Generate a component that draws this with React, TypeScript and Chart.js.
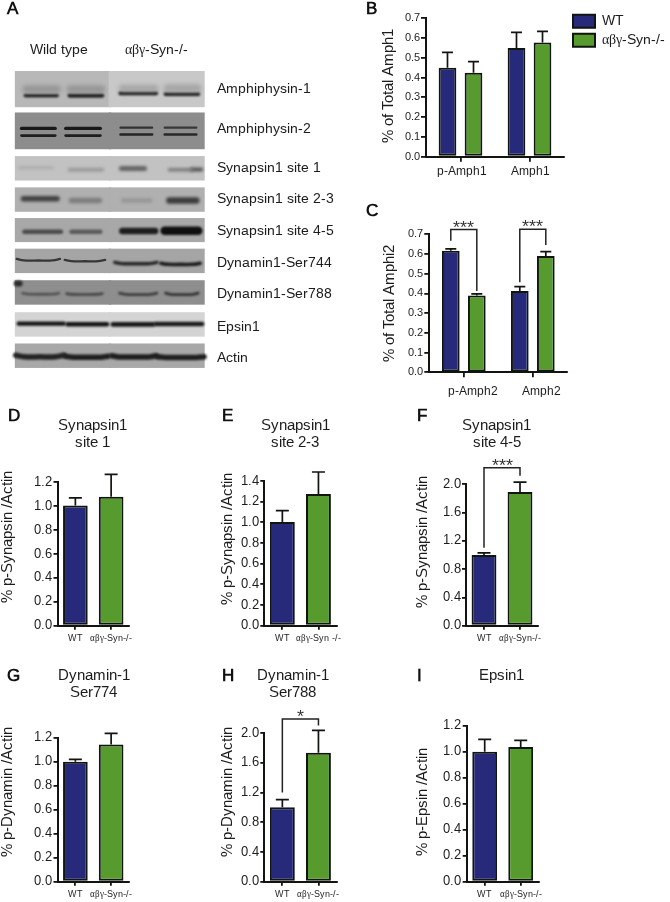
import React, { useEffect, useRef } from "react";
import { Chart, registerables } from "chart.js";

Chart.register(...registerables);

// ---------- data ----------
const navy = "#27297b";
const green = "#579a2e";
const ink = "#10160f";
const textColor = "#1c1c1c";

const bCategories = ["p-Amph1", "Amph1"];
const bWT = [0.45, 0.55];
const bWTErr = [0.078, 0.079];
const bKO = [0.425, 0.577];
const bKOErr = [0.056, 0.057];

const cCategories = ["p-Amph2", "Amph2"];
const cWT = [0.616, 0.413];
const cWTErr = [0.01, 0.022];
const cKO = [0.389, 0.59];
const cKOErr = [0.009, 0.022];

const dCategories = ["WT", "αβγ-Syn-/-"];
const dValues = [1.005, 1.08];
const dErrors = [0.064, 0.187];

const eCategories = ["WT", "αβγ-Syn -/-"];
const eValues = [1.003, 1.274];
const eErrors = [0.11, 0.213];

const fCategories = ["WT", "αβγ-Syn-/-"];
const fValues = [1.0, 1.89];
const fErrors = [0.03, 0.14];

const gCategories = ["WT", "αβγ-Syn-/-"];
const gValues = [1.0, 1.144];
const gErrors = [0.02, 0.092];

const hCategories = ["WT", "αβγ-Syn-/-"];
const hValues = [1.0, 1.735];
const hErrors = [0.103, 0.301];

const iCategories = ["WT", "αβγ-Syn-/-"];
const iValues = [1.0, 1.036];
const iErrors = [0.095, 0.051];

const legendLabels = ["WT", "αβγ-Syn-/-"];

const panelLetters: [string, number, number][] = [
  ["A", 6.5, 14.7], ["B", 365.5, 14.7], ["C", 365.5, 217.3],
  ["D", 7.5, 421.7], ["E", 222, 421.7], ["F", 416.7, 422.3],
  ["G", 6.7, 682.3], ["H", 222, 682], ["I", 417, 682],
];

const blotHeaders: [string, number][] = [["Wild type", 59], ["αβγ-Syn-/-", 156]];

const blotLabels = [
  "Amphiphysin-1", "Amphiphysin-2", "Synapsin1 site 1", "Synapsin1 site 2-3", "Synapsin1 site 4-5",
  "Dynamin1-Ser744", "Dynamin1-Ser788", "Epsin1", "Actin",
];
const blotLabelY = [88.3, 128.3, 167.3, 198.3, 230, 261.7, 293, 326, 357.3];
const blotTop = [68.3, 110.7, 155.3, 187.3, 218.7, 250, 282.3, 315, 347];
const blotBottom = [105.3, 148.3, 180.3, 212.3, 243.3, 275, 307.3, 340, 372];
const blotGrayLeft = [184, 141, 194, 176, 168, 165, 142, 212, 168];
const blotGrayRight = [200, 141, 194, 176, 168, 165, 142, 212, 168];
const blotLaneLeft = [11, 108.7];
const blotLaneRight = [111.3, 208.7];

// x0, x1, y, thickness, gray level, blur, sag
const blotBands: number[][] = [
  // Amphiphysin-1 smears and bands
  [23, 55, 87, 8, 150, 2, 0], [69, 101, 87, 8, 150, 2, 0], [123, 157, 86, 7, 165, 2, 0], [170, 201, 86, 8, 165, 2, 0],
  [22, 55, 93.3, 3.5, 20, 1, 0], [68, 102, 93.3, 4, 15, 1, 0], [121, 158, 91, 4, 20, 1, 0], [168, 202, 91.7, 4, 25, 1, 0],
  // Amphiphysin-2
  [18, 53, 127, 3.4, 25, 0.7, 0], [64, 100, 127, 3.4, 25, 0.7, 0], [18, 53, 134.3, 2.8, 30, 0.7, 0], [64, 100, 134.3, 2.8, 30, 0.7, 0],
  [121, 154, 126.3, 2.2, 50, 0.7, 0], [167, 200, 126.3, 2.2, 55, 0.7, 0], [121, 154, 133.3, 2.4, 35, 0.7, 0], [167, 200, 133.3, 2.4, 40, 0.7, 0],
  // Synapsin1 site 1
  [16, 50, 167.3, 3, 172, 1.5, 0], [68, 102, 169.3, 4, 155, 1.5, 0], [122, 146, 168, 5, 100, 1.5, 0], [172, 195, 169.3, 3.5, 125, 1.5, 0], [195, 205, 169, 4, 85, 1.5, 0],
  // Synapsin1 site 2-3
  [20, 55, 199, 5.5, 65, 1.5, 0], [70, 99, 200.7, 5.5, 125, 1.5, 0], [124, 152, 200.7, 4.5, 150, 1.5, 0], [172, 200, 200.7, 6.5, 60, 1.5, 0],
  // Synapsin1 site 4-5
  [21, 59, 232.7, 4.5, 75, 1.3, 0], [70, 100, 232.7, 4.5, 90, 1.3, 0], [123, 157, 232, 6.5, 30, 1.2, 0], [167, 202, 231.7, 8.5, 15, 1.2, 0],
  // Dynamin1-Ser744
  [13, 58, 260.5, 2.4, 55, 0.7, 1.5], [63, 105, 261.5, 2.4, 55, 0.7, 1.3], [115, 159, 264, 3.4, 35, 0.8, 1.3], [163, 204, 265, 3.6, 25, 0.8, 1],
  // Dynamin1-Ser788
  [13, 16, 285.7, 6, 45, 1, 0], [19, 57, 295.5, 2.4, 75, 0.8, 1], [65, 102, 296, 2.6, 65, 0.8, 0.8], [120, 159, 295.5, 2.8, 60, 0.8, 1.3], [168, 202, 295.5, 2.8, 50, 0.8, 1.3],
  // Epsin1
  [15, 62, 326.7, 4.2, 20, 1, 0], [66, 107, 327.3, 4.6, 20, 1, 0], [113, 155, 327.5, 4.6, 25, 1, 0], [158, 206, 327, 4.6, 25, 1, 0],
  // Actin
  [12, 62, 359, 5.5, 35, 1.1, 1.5], [64, 108, 360, 5.5, 30, 1.1, 1], [112, 158, 359.5, 5.5, 30, 1.1, 1.2], [160, 208, 360.5, 5.5, 30, 1.1, 0.8],
];

const bracketsC = [
  { from: [0, 0], to: [1, 0], top: 0.724, startAt: 0.667, endAt: 0.413, label: "***" },
  { from: [0, 1], to: [1, 1], top: 0.726, startAt: 0.457, endAt: 0.646, label: "***" },
];
const bracketsF = [{ from: [0, 0], to: [0, 1], top: 2.235, startAt: 1.103, endAt: 2.12, label: "***" }];
const bracketsH = [{ from: [0, 0], to: [0, 1], top: 2.188, startAt: 1.2, endAt: 2.1, label: "*" }];

const wkColors = [navy, green];

const panels: any[] = [
  {
    id: "B", categories: bCategories, yMax: 0.7, yStep: 0.1, yTitle: "% of Total Amph1", tickSize: 11, xSize: 12,
    series: [
      { label: legendLabels[0], values: bWT, errors: bWTErr, color: navy },
      { label: legendLabels[1], values: bKO, errors: bKOErr, color: green },
    ],
    legend: { x: 567.5, y: 9 },
    box: { left: 350, top: 0, right: 670, bottom: 185 }, plot: { left: 426, right: 564, top: 18.3, bottom: 156.7 },
    yTitlePos: [388.7, 85.8], barPct: 0.68, catPct: 0.754, cap: 11, xPad: 2.5, labelOffset: 1, tickLen: 5,
  },
  {
    id: "C", categories: cCategories, yMax: 0.7, yStep: 0.1, yTitle: "% of Total Amphi2", tickSize: 11, xSize: 12,
    series: [
      { label: legendLabels[0], values: cWT, errors: cWTErr, color: navy },
      { label: legendLabels[1], values: cKO, errors: cKOErr, color: green },
    ],
    brackets: bracketsC,
    box: { left: 350, top: 195, right: 590, bottom: 405 }, plot: { left: 429.3, right: 567.3, top: 234.3, bottom: 372.3 },
    yTitlePos: [390, 303.3], barPct: 0.68, catPct: 0.754, cap: 11, xPad: 7, labelOffset: 9, tickLen: 5,
  },
  {
    id: "D", categories: dCategories, yMax: 1.2, yStep: 0.2, yTitle: "% p-Synapsin /Actin", title: ["Synapsin1", "site 1"], titleCenter: 92.5,
    series: [{ label: "Level", values: dValues, errors: dErrors, color: wkColors }],
    box: { left: 0, top: 405, right: 150, bottom: 652 }, plot: { left: 57.5, right: 129, top: 482.3, bottom: 625.7 }, yTitlePos: [8, 537],
  },
  {
    id: "E", categories: eCategories, yMax: 1.4, yStep: 0.2, yTitle: "% p-Synapsin /Actin", title: ["Synapsin1", "site 2-3"], titleCenter: 295,
    series: [{ label: "Level", values: eValues, errors: eErrors, color: wkColors }],
    brackets: undefined,
    box: { left: 210, top: 405, right: 350, bottom: 652 }, plot: { left: 264.3, right: 336.5, top: 481, bottom: 625.7 }, yTitlePos: [228, 539],
  },
  {
    id: "F", categories: fCategories, yMax: 2.0, yStep: 0.4, yTitle: "% p-Synapsin /Actin", title: ["Synapsin1", "site 4-5"], titleCenter: 496.7,
    series: [{ label: "Level", values: fValues, errors: fErrors, color: wkColors }],
    brackets: bracketsF,
    box: { left: 410, top: 405, right: 560, bottom: 652 }, plot: { left: 466, right: 538, top: 484.3, bottom: 625.7 }, yTitlePos: [423.3, 542],
  },
  {
    id: "G", categories: gCategories, yMax: 1.2, yStep: 0.2, yTitle: "% p-Dynamin /Actin", title: ["Dynamin-1", "Ser774"], titleCenter: 93.5,
    series: [{ label: "Level", values: gValues, errors: gErrors, color: wkColors }],
    box: { left: 0, top: 655, right: 150, bottom: 902 }, plot: { left: 57.5, right: 129, top: 737.7, bottom: 881.7 }, yTitlePos: [7.5, 791.7],
  },
  {
    id: "H", categories: hCategories, yMax: 2.0, yStep: 0.4, yTitle: "% p-Dynamin /Actin", title: ["Dynamin-1", "Ser788"], titleCenter: 292.5,
    series: [{ label: "Level", values: hValues, errors: hErrors, color: wkColors }],
    brackets: bracketsH,
    box: { left: 210, top: 655, right: 350, bottom: 902 }, plot: { left: 264.3, right: 336.5, top: 733, bottom: 881.7 }, yTitlePos: [228, 791.7],
  },
  {
    id: "I", categories: iCategories, yMax: 1.2, yStep: 0.2, yTitle: "% p-Epsin /Actin", title: ["Epsin1"], titleCenter: 501.7,
    series: [{ label: "Level", values: iValues, errors: iErrors, color: wkColors }],
    box: { left: 410, top: 655, right: 560, bottom: 902 }, plot: { left: 466.7, right: 538.7, top: 725.7, bottom: 881.7 }, yTitlePos: [423.3, 801.7],
  },
];

// ---------- fonts ----------
const MIX = "ChartMix";
const fontFaces = `
@font-face { font-family: ${MIX}; src: local("Liberation Sans"); unicode-range: U+0000-036F, U+0400-FFFF; }
@font-face { font-family: ${MIX}; src: local("Liberation Serif"); unicode-range: U+0370-03FF; }
`;
const family = `${MIX}, "Liberation Sans", sans-serif`;

// ---------- plugins ----------
const errorBarPlugin = {
  id: "errorBars",
  afterDatasetsDraw(chart: any, _a: any, opts: any) {
    const { ctx } = chart;
    const yScale = chart.scales.y;
    ctx.save();
    ctx.strokeStyle = ink;
    ctx.lineWidth = 1.7;
    chart.data.datasets.forEach((ds: any, di: number) => {
      chart.getDatasetMeta(di).data.forEach((bar: any, i: number) => {
        const top = yScale.getPixelForValue(ds.data[i] + ds.errors[i]);
        ctx.beginPath();
        ctx.moveTo(bar.x, bar.y);
        ctx.lineTo(bar.x, top);
        ctx.moveTo(bar.x - opts.cap / 2, top);
        ctx.lineTo(bar.x + opts.cap / 2, top);
        ctx.stroke();
      });
    });
    ctx.restore();
  },
};

const bracketPlugin = {
  id: "brackets",
  afterDatasetsDraw(chart: any, _a: any, opts: any) {
    if (!opts.items) return;
    const { ctx } = chart;
    const yScale = chart.scales.y;
    opts.items.forEach((b: any) => {
      const x0 = chart.getDatasetMeta(b.from[0]).data[b.from[1]].x;
      const x1 = chart.getDatasetMeta(b.to[0]).data[b.to[1]].x;
      const yTop = yScale.getPixelForValue(b.top);
      ctx.save();
      ctx.strokeStyle = "#222";
      ctx.lineWidth = 1.5;
      ctx.beginPath();
      ctx.moveTo(x0, yScale.getPixelForValue(b.startAt));
      ctx.lineTo(x0, yTop);
      ctx.lineTo(x1, yTop);
      ctx.lineTo(x1, yScale.getPixelForValue(b.endAt));
      ctx.stroke();
      ctx.fillStyle = "#333";
      ctx.font = `18px ${family}`;
      ctx.textAlign = "center";
      ctx.textBaseline = "alphabetic";
      ctx.fillText(b.label, (x0 + x1) / 2, yTop + 3);
      ctx.restore();
    });
  },
};

const nudgePlugin = {
  id: "nudge",
  afterLayout(chart: any, _a: any, opts: any) {
    const t = chart.titleBlock;
    if (t && opts.titleCenter != null) {
      t.left = opts.titleCenter - 60;
      t.right = opts.titleCenter + 60;
      t.width = 120;
    }
    const l = chart.legend;
    if (l && opts.legend) {
      l.left = opts.legend.x;
      l.top = opts.legend.y;
      l.right = l.left + l.width;
      l.bottom = l.top + l.height;
    }
    const s = chart.scales.y;
    if (s && opts.yTitle && !s._titleNudged) {
      const orig = s.drawTitle;
      s._titleNudged = true;
      s.drawTitle = function () {
        const c = chart.ctx;
        const lh = this.options.title.font.size * 1.2;
        c.save();
        c.translate(opts.yTitle[0] - (this.left + lh / 2), opts.yTitle[1] - (this.top + this.bottom) / 2);
        orig.call(this);
        c.restore();
      };
    }
  },
};

const blotPlugin = {
  id: "blotGround",
  beforeDatasetsDraw(chart: any) {
    const { ctx, scales } = chart;
    blotTop.forEach((top, r) => {
      [0, 1].forEach((side) => {
        const g = side === 0 ? blotGrayLeft[r] : blotGrayRight[r];
        ctx.fillStyle = `rgb(${g},${g},${g})`;
        const x0 = scales.x.getPixelForValue(blotLaneLeft[side]);
        const x1 = scales.x.getPixelForValue(blotLaneRight[side]);
        const y0 = scales.y.getPixelForValue(top);
        const y1 = scales.y.getPixelForValue(blotBottom[r]);
        ctx.fillRect(x0, y0, x1 - x0, y1 - y0);
      });
    });
  },
  beforeDatasetDraw(chart: any, args: any) {
    chart.ctx.filter = `blur(${chart.data.datasets[args.index].blur}px)`;
  },
  afterDatasetDraw(chart: any) {
    chart.ctx.filter = "none";
  },
};

// ---------- builders ----------
function makeBlot(canvas: HTMLCanvasElement) {
  const datasets = blotBands.map(([x0, x1, y, thick, gray, blur, sag]) => ({
    data: [
      { x: x0, y },
      { x: (x0 * 5 + x1) / 6, y: y + sag },
      { x: (x0 + x1) / 2, y: y + sag * 1.1 },
      { x: (x0 + x1 * 5) / 6, y: y + sag },
      { x: x1, y },
    ],
    borderColor: `rgb(${gray},${gray},${gray})`,
    borderWidth: thick,
    borderCapStyle: "round",
    tension: 0.4,
    pointRadius: 0,
    blur,
  }));
  return new Chart(canvas, {
    type: "line",
    data: { datasets } as any,
    options: {
      animation: false,
      responsive: false,
      events: [],
      layout: { padding: 0 },
      plugins: { legend: { display: false }, tooltip: { enabled: false } },
      scales: {
        x: { type: "linear", display: false, min: 0, max: 215 },
        y: { type: "linear", display: false, min: 0, max: 380, reverse: true },
      },
    } as any,
    plugins: [blotPlugin],
  });
}

function makeBar(canvas: HTMLCanvasElement, p: any) {
  const { box, plot } = p;
  const tickLen = p.tickLen ?? 4;
  const titleSize = 14.5;
  const titleLines = p.title ? p.title.length : 0;
  const plotH = plot.top - box.top;
  const titlePadTop = 12;
  const titleH = titleLines * titleSize * 1.2;
  const axisFont = { size: p.tickSize ?? 13, family };
  return new Chart(canvas, {
    type: "bar",
    data: {
      labels: p.categories,
      datasets: p.series.map((s: any) => ({
        label: s.label,
        data: s.values,
        errors: s.errors,
        backgroundColor: s.color,
        borderColor: ink,
        borderWidth: 2,
        borderSkipped: false,
        barPercentage: p.barPct ?? 0.69,
        categoryPercentage: p.catPct ?? 1,
      })),
    } as any,
    options: {
      animation: false,
      responsive: false,
      events: [],
      layout: { padding: { left: 0, right: box.right - plot.right, top: p.title ? 0 : plotH, bottom: 0 } },
      font: { family },
      plugins: {
        tooltip: { enabled: false },
        legend: p.legend
          ? {
              display: true,
              position: "chartArea",
              align: "start",
              labels: { boxWidth: 22, boxHeight: 13, padding: 5.5, color: textColor, font: { size: 13.5, family } },
            }
          : { display: false },
        title: p.title
          ? {
              display: true,
              text: p.title,
              color: textColor,
              font: { size: titleSize, weight: "normal", family, lineHeight: 1.2 },
              padding: { top: titlePadTop, bottom: plotH - titlePadTop - titleH },
            }
          : { display: false },
        errorBars: { cap: p.cap ?? 13 },
        brackets: { items: p.brackets },
        nudge: {
          titleCenter: p.titleCenter != null ? p.titleCenter - box.left : null,
          legend: p.legend ? { x: p.legend.x - box.left, y: p.legend.y - box.top } : null,
          yTitle: [p.yTitlePos[0] - box.left, p.yTitlePos[1] - box.top],
        },
      },
      scales: {
        x: {
          type: "category",
          offset: true,
          afterFit: (s: any) => { s.height = box.bottom - plot.bottom; },
          border: { color: ink, width: 2 },
          grid: { display: true, offset: false, drawOnChartArea: false, drawTicks: true, tickLength: tickLen, color: ink, lineWidth: 1.8 },
          ticks: { color: textColor, font: { size: p.xSize ?? 9, family }, padding: p.xPad ?? 3, maxRotation: 0, autoSkip: false, labelOffset: p.labelOffset ?? 0 },
        },
        y: {
          min: 0,
          max: p.yMax,
          afterFit: (s: any) => { s.width = plot.left - box.left; },
          border: { color: ink, width: 2 },
          grid: { display: true, drawOnChartArea: false, drawTicks: true, tickLength: tickLen, color: ink, lineWidth: 1.8 },
          ticks: { stepSize: p.yStep, color: textColor, font: axisFont, padding: 1.5, callback: (v: any) => Number(v).toFixed(1) },
          title: { display: true, text: p.yTitle, color: textColor, padding: 0, font: { size: 15, family, lineHeight: 1.2 } },
        },
      },
    } as any,
    plugins: [errorBarPlugin, bracketPlugin, nudgePlugin],
  });
}

// ---------- component ----------
const abs: React.CSSProperties = { position: "absolute", whiteSpace: "nowrap", fontFamily: family, color: textColor };

export default function App() {
  const blotRef = useRef<HTMLCanvasElement | null>(null);
  const barRefs = useRef<Record<string, HTMLCanvasElement | null>>({});

  useEffect(() => {
    const charts: Chart[] = [];
    if (blotRef.current) charts.push(makeBlot(blotRef.current));
    panels.forEach((p) => {
      const c = barRefs.current[p.id];
      if (c) charts.push(makeBar(c, p));
    });
    let alive = true;
    Promise.all([
      document.fonts.load(`13px ${MIX}`, "WT Syn"),
      document.fonts.load(`13px ${MIX}`, "αβγ"),
    ]).then(() => {
      if (alive) charts.forEach((c) => c.update());
    });
    return () => {
      alive = false;
      charts.forEach((c) => c.destroy());
    };
  }, []);

  return (
    <div style={{ position: "absolute", left: 0, top: 0, width: 670, height: 902, background: "#fff", overflow: "hidden", filter: "blur(0.35px)" }}>
      <style>{fontFaces}</style>
      <canvas ref={blotRef} width={215} height={380} style={{ position: "absolute", left: 0, top: 0 }} />
      {panels.map((p) => (
        <canvas
          key={p.id}
          ref={(el) => { barRefs.current[p.id] = el; }}
          width={p.box.right - p.box.left}
          height={p.box.bottom - p.box.top}
          style={{ position: "absolute", left: p.box.left, top: p.box.top }}
        />
      ))}
      {panelLetters.map(([t, x, y]) => (
        <div key={t} style={{ ...abs, left: x, top: y - 16, fontSize: 17, lineHeight: "20px", fontWeight: 700, color: "#111" }}>{t}</div>
      ))}
      {blotHeaders.map(([t, cx]) => (
        <div key={t} style={{ ...abs, left: cx - 60, width: 120, textAlign: "center", top: 40, fontSize: 14, lineHeight: "18px" }}>{t}</div>
      ))}
      {blotLabels.map((t, i) => (
        <div key={t} style={{ ...abs, left: 217, top: blotLabelY[i] - 9, fontSize: 14.3, lineHeight: "18px" }}>{t}</div>
      ))}
    </div>
  );
}
